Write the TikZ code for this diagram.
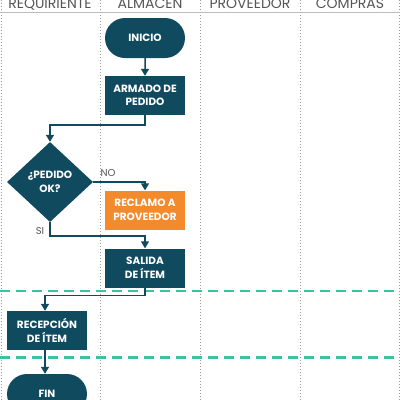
\documentclass[tikz,border=0pt]{standalone}
\usepackage{fontspec}
\setmainfont{Poppins}
\usepackage{xcolor}
\usepackage{tikz}
\usetikzlibrary{shapes.geometric,shapes.misc,arrows.meta}
\definecolor{navy}{HTML}{0F4A5F}
\definecolor{orng}{HTML}{F38A2C}
\definecolor{teal}{HTML}{3DC1A2}
\definecolor{grid}{HTML}{9A9A9A}
\definecolor{head}{HTML}{555555}
\definecolor{rule}{HTML}{BDBDBD}
\tikzset{
  lane/.style={draw=grid, line width=0.8pt, dash pattern=on 1pt off 2pt},
  phase/.style={draw=teal, line width=2.2pt, dash pattern=on 10pt off 6pt},
  hdr/.style={text=head, font=\fontsize{14}{16}\selectfont, anchor=base},
  proc/.style={rectangle, fill=navy, text=white, minimum width=80pt, minimum height=39pt,
    inner sep=0pt, align=center, font=\bfseries\fontsize{10.5}{13.5}\selectfont},
  alert/.style={proc, fill=orng},
  term/.style={rounded rectangle, fill=navy, text=white, minimum width=80pt, minimum height=40pt,
    inner sep=0pt, align=center, font=\bfseries\fontsize{10.5}{13.5}\selectfont},
  ask/.style={diamond, fill=navy, text=white, minimum width=86pt, minimum height=80pt,
    aspect=1.07, inner sep=0pt, align=center, font=\bfseries\fontsize{10.5}{13.5}\selectfont},
  flow/.style={draw=navy, line width=1.5pt, -{Triangle[width=8pt,length=7pt]}},
  lab/.style={text=head, font=\fontsize{10}{11}\selectfont},
}
\begin{document}
\begin{tikzpicture}[x=1pt,y=-1pt]
  \useasboundingbox (0,0) rectangle (400,400);
  % lanes
  \foreach \x in {1,100,200,300,399}
    \draw[lane] (\x,0) -- (\x,400);
  \draw[rule, line width=1.5pt] (0,12.5) -- (400,12.5);
  \node[hdr] (hreq) at (50,8.5) {REQUIRIENTE};
  \node[hdr] (halm) at (150,8.5) {ALMACEN};
  \node[hdr] (hpro) at (250,8.5) {PROVEEDOR};
  \node[hdr] (hcom) at (350,8.5) {COMPRAS};
  % phases
  \draw[phase] (0,291) -- (400,291);
  \draw[phase] (0,357.5) -- (400,357.5);
  % steps
  \node[term] (inicio) at (145,38) {INICIO};
  \node[proc] (armado) at (145,95.5) {ARMADO DE\\PEDIDO};
  \node[ask] (pedido) at (50,182) {¿PEDIDO\\OK?};
  \node[alert] (reclamo) at (145,210) {RECLAMO A\\PROVEEDOR};
  \node[proc] (salida) at (145,268) {SALIDA\\DE ÍTEM};
  \node[proc] (recepcion) at (47,330.5) {RECEPCIÓN\\DE ÍTEM};
  \node[term] (fin) at (47,394) {FIN};
  % connectors
  \draw[flow] (inicio) -- (armado);
  \draw[flow] (armado.south) -- ++(0,10) -| (pedido.north);
  \draw[flow] (pedido.east) -| (reclamo.north);
  \draw[flow] (pedido.south) -- ++(0,14) -| (salida.north);
  \draw[flow] (salida.south) -- ++(0,8) -| ([xshift=-2pt]recepcion.north);
  \draw[flow] ([xshift=-2pt]recepcion.south) -- ([xshift=-2pt]fin.north);
  \node[lab] (no) at (108,173) {NO};
  \node[lab] (si) at (40,231) {SI};
\end{tikzpicture}
\end{document}
